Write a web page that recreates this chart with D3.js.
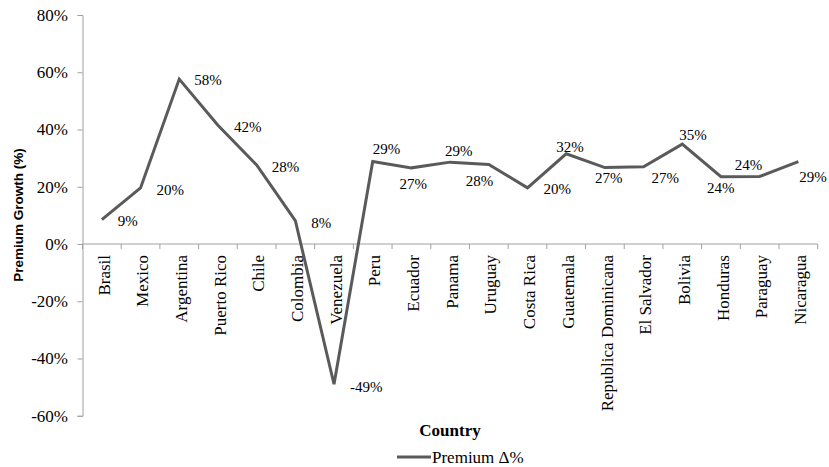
<!DOCTYPE html>
<html>
<head>
<meta charset="utf-8">
<script src="https://cdn.jsdelivr.net/npm/d3@7"></script>
<style>
  html, body { margin: 0; padding: 0; background: #fff; }
  svg { display: block; }
</style>
</head>
<body>
<svg id="chart" width="829" height="467"></svg>
<script>
// ---- data ----
const countries = ["Brasil", "Mexico", "Argentina", "Puerto Rico", "Chile", "Colombia", "Venezuela", "Peru", "Ecuador", "Panama", "Uruguay", "Costa Rica", "Guatemala", "Republica Dominicana", "El Salvador", "Bolivia", "Honduras", "Paraguay", "Nicaragua"];
const premiumGrowth = [8.5, 19.6, 57.6, 41.5, 27.6, 8.2, -49.0, 28.8, 26.6, 28.6, 27.8, 19.6, 31.5, 26.7, 27.0, 34.9, 23.5, 23.6, 28.8];
const yTicks = [-60, -40, -20, 0, 20, 40, 60, 80];
const seriesName = "Premium \u0394%";
const xTitle = "Country";
const yTitle = "Premium Growth (%)";

// ---- label placement (style, not data): [dx from point to label start, dy of label centre] ----
const labelOffsets = [[16,1],[16,2],[15,1],[16,2],[15,2],[16,2],[16,2],[0,-13],[-12,16],[-5,-11],[-23,16],[16,1],[-10,-7],[-10,10],[8,11],[-3,-9],[-14,11],[-25,-12],[1,15]];

const svg = d3.select("#chart");
const serif = "'Liberation Serif', 'Times New Roman', serif";
const axisColor = "#a0a0a0";
const lineColor = "#5a5a5a";

const x = d3.scaleBand().domain(countries).range([82.5, 817.7]).padding(0);
const y = d3.scaleLinear().domain([-60, 80]).range([415.75, 15]);

// y axis
const yAxis = d3.axisLeft(y).tickValues(yTicks).tickSize(5).tickPadding(9.5).tickFormat(d => d + "%");
const gy = svg.append("g").attr("transform", "translate(82.5,0)").call(yAxis);
gy.attr("font-family", serif);
gy.select(".domain").attr("stroke", axisColor);
gy.selectAll(".tick line").attr("stroke", axisColor);
gy.selectAll(".tick text").attr("font-family", serif).attr("font-size", 17).attr("fill", "#000");

// x axis at y = 0
const y0 = y(0);
const gx = svg.append("g");
gx.append("line").attr("x1", x.range()[0]).attr("x2", x.range()[1]).attr("y1", y0).attr("y2", y0).attr("stroke", axisColor);
const edges = countries.map(c => x(c)).concat([x.range()[1]]);
gx.selectAll("line.xt").data(edges).enter().append("line").attr("class", "xt")
  .attr("x1", d => d).attr("x2", d => d).attr("y1", y0).attr("y2", y0 + 5).attr("stroke", axisColor);
gx.selectAll("text.xl").data(countries).enter().append("text").attr("class", "xl")
  .attr("transform", d => `translate(${x(d) + x.bandwidth() / 2},${y0 + 11}) rotate(-90)`)
  .attr("text-anchor", "end").attr("dy", "0.45em")
  .attr("font-family", serif).attr("font-size", 17).attr("fill", "#000")
  .text(d => d);

// line
const line = d3.line().x((d, i) => x(countries[i]) + x.bandwidth() / 2).y(d => y(d));
svg.append("path").datum(premiumGrowth).attr("d", line)
  .attr("fill", "none").attr("stroke", lineColor).attr("stroke-width", 3).attr("stroke-linejoin", "miter");

// data labels
svg.selectAll("text.dl").data(premiumGrowth).enter().append("text").attr("class", "dl")
  .attr("x", (d, i) => x(countries[i]) + x.bandwidth() / 2 + labelOffsets[i][0])
  .attr("y", (d, i) => y(d) + labelOffsets[i][1])
  .attr("dy", "0.35em")
  .attr("font-family", serif).attr("font-size", 15).attr("fill", "#000")
  .text(d => Math.round(d) + "%");

// axis titles
svg.append("text").attr("transform", "translate(18,215) rotate(-90)")
  .attr("text-anchor", "middle").attr("dy", "0.35em")
  .attr("font-family", "'Liberation Sans', Arial, sans-serif").attr("font-weight", "bold").attr("font-size", 13.5)
  .attr("fill", "#000").text(yTitle);
svg.append("text").attr("x", 450).attr("y", 430).attr("dy", "0.35em").attr("text-anchor", "middle")
  .attr("font-family", serif).attr("font-weight", "bold").attr("font-size", 17).attr("fill", "#000").text(xTitle);

// legend
const lg = svg.append("g");
lg.append("line").attr("x1", 397).attr("x2", 431).attr("y1", 457).attr("y2", 457)
  .attr("stroke", lineColor).attr("stroke-width", 3);
lg.append("text").attr("x", 432).attr("y", 457).attr("dy", "0.35em")
  .attr("font-family", serif).attr("font-size", 17).attr("fill", "#000").text(seriesName);
</script>
</body>
</html>
